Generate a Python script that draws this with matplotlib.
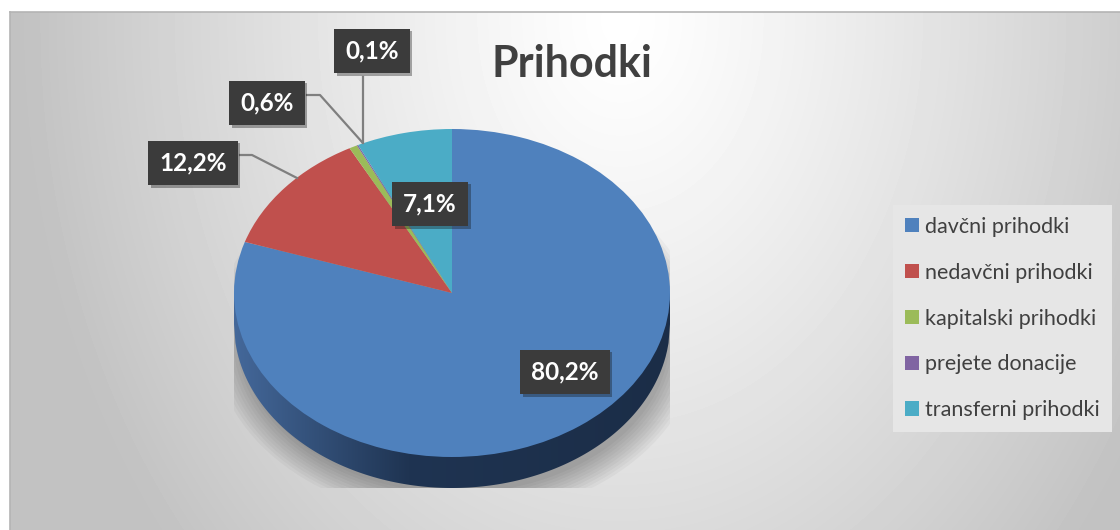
import numpy as np
import matplotlib.pyplot as plt
import matplotlib.patheffects as pe
from matplotlib.patches import Polygon, Ellipse
from matplotlib.colors import LinearSegmentedColormap

plt.rcParams['font.family'] = ['Lato', 'DejaVu Sans']

# podatki
kategorije = ['davčni prihodki', 'nedavčni prihodki', 'kapitalski prihodki',
              'prejete donacije', 'transferni prihodki']
delezi = [80.2, 12.2, 0.6, 0.1, 7.1]
barve = ['#4f81bd', '#c0504d', '#9bbb59', '#8064a2', '#4bacc6']

# postavitev oznak (px slike) in vodilne črte
oznake_xy = [(565, 372), (193, 163), (267, 103), (372, 51), (430, 204)]
vodila = {1: [(240, 155), (252, 155), (297, 178)],
          2: [(307, 95), (320, 95), (362, 142)],
          3: [(363, 77), (363, 143)]}

W, H = 1120, 530
fig = plt.figure(figsize=(W / 100, H / 100), dpi=100)

# ozadje z radialnim prelivom
bg = fig.add_axes([0, 0, 1, 1])
bg.set_xlim(0, W)
bg.set_ylim(H, 0)
bg.axis('off')
X, Y = np.meshgrid(np.arange(10, W), np.arange(12, H))
d = np.sqrt(((X - 620) / 600.0) ** 2 + ((Y - 20) / 800.0) ** 2)
v = 1 - 0.24 * np.clip(d, 0, 1.0) ** 1.2
bg.imshow(v, cmap='gray', vmin=0, vmax=1, extent=(10, W, H, 12), aspect='auto', zorder=0)
bg.plot([10, W], [12, 12], color='#b4b4b4', lw=1.2, zorder=1)
bg.plot([10, 10], [12, H], color='#b4b4b4', lw=1.2, zorder=1)

# torta - elipsa
cx, cy, rx, ry, globina = 452, 293, 218, 164, 31
dg = globina / ry
ax = fig.add_axes([(cx - rx) / W, (H - (cy + ry + globina)) / H, 2 * rx / W, (2 * ry + globina) / H])
ax.patch.set_alpha(0)

# senca
for k in range(10):
    s = Ellipse((0.02, -dg - 0.08), 1.96 + 0.03 * k, 1.9 + 0.035 * k, color='black',
                alpha=0.03, lw=0, zorder=0)
    ax.add_patch(s)

# stranica
xs = np.linspace(-1, 1, 300)
stran = [(-1, 0)] + [(x, -np.sqrt(max(0, 1 - x * x)) - dg) for x in xs] + [(1, 0)]
poly = Polygon(stran, closed=True, facecolor='none', edgecolor='none', zorder=1)
ax.add_patch(poly)
cm = LinearSegmentedColormap.from_list('stran', [(0, '#44689a'), (0.4, '#1f3452'), (1, '#1b2d47')])
grad = np.linspace(0, 1, 256).reshape(1, -1)
im = ax.imshow(grad, cmap=cm, extent=(-1, 1, -1 - dg, 0), aspect='auto', zorder=1)
im.set_clip_path(poly)

wedges, _ = ax.pie(delezi, colors=barve, startangle=90, counterclock=False,
                   radius=1, wedgeprops=dict(linewidth=0, zorder=2))
ax.set_aspect('auto')
ax.set_xlim(-1, 1)
ax.set_ylim(-1 - dg, 1)
ax.axis('off')

# prekrivna os za besedila
ov = fig.add_axes([0, 0, 1, 1])
ov.set_xlim(0, W)
ov.set_ylim(H, 0)
ov.axis('off')
ov.patch.set_alpha(0)

ov.text(572, 64, 'Prihodki', fontsize=31, fontweight='bold', color='#404040',
        ha='center', va='center')

for i, pts in vodila.items():
    px, py = zip(*pts)
    ov.plot(px, py, color='#7f7f7f', lw=1.6, zorder=3)

for val, (x, y) in zip(delezi, oznake_xy):
    t = ov.text(x, y, f'{val:.1f}'.replace('.', ',') + '%', fontsize=17.5, fontweight='bold',
                color='white', ha='center', va='center', zorder=5,
                bbox=dict(boxstyle='square,pad=0.45', facecolor='#3b3b3b', edgecolor='none'))
    t.get_bbox_patch().set_path_effects([pe.withSimplePatchShadow(offset=(2, -2), alpha=0.35)])

leg = fig.legend(wedges, kategorije, loc='upper left',
                 bbox_to_anchor=(893 / W, 1 - 205 / H), fontsize=15.5,
                 frameon=True, fancybox=False, facecolor='#e6e6e6', edgecolor='none',
                 framealpha=1, labelspacing=1.2, handlelength=0.65, handleheight=0.65,
                 handletextpad=0.3, borderpad=0.55, borderaxespad=0)
for t in leg.get_texts():
    t.set_color('#404040')

fig.savefig('out.png', dpi=100)
